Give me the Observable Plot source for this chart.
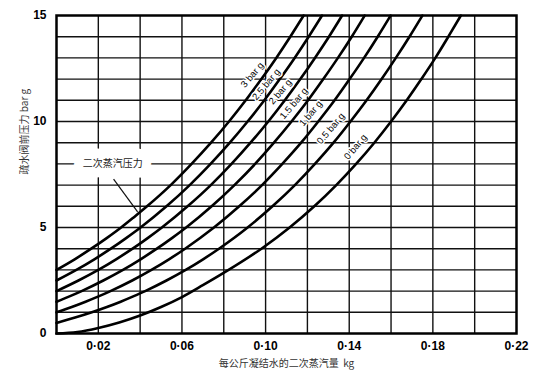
<!DOCTYPE html>
<html><head><meta charset="utf-8">
<script src="https://cdn.jsdelivr.net/npm/d3@7"></script>
<script src="https://cdn.jsdelivr.net/npm/@observablehq/plot@0.6"></script>
<style>body{margin:0;background:#fff}</style>
</head><body><div id="chart"></div>
<script>
// Axis ticks and grid
const xTickValues = [0.02, 0.06, 0.10, 0.14, 0.18, 0.22];
const yTickValues = [0, 5, 10, 15];
const xGridValues = [0.02, 0.04, 0.06, 0.08, 0.10, 0.12, 0.14, 0.16, 0.18, 0.20];
const yGridValues = [1, 2, 3, 4, 5, 6, 7, 8, 9, 10, 11, 12, 13, 14];

// Curves: [flash steam kg per kg condensate, upstream pressure bar g]
const curve0 = [[0,0],[0.01,0.07],[0.02,0.26],[0.03,0.52],[0.04,0.85],[0.05,1.25],[0.06,1.72],[0.07,2.28],[0.0823,3],[0.098,4],[0.1115,5],[0.1233,6],[0.1338,7],[0.1433,8],[0.1520,9],[0.1600,10],[0.1675,11],[0.1745,12],[0.1812,13],[0.1874,14],[0.1934,15]];
const curve05 = [[0,0.5],[0.0089,0.75],[0.0169,1],[0.0241,1.25],[0.0307,1.5],[0.0367,1.75],[0.0424,2],[0.0526,2.5],[0.0618,3],[0.0701,3.5],[0.0777,4],[0.0914,5],[0.1033,6],[0.1140,7],[0.1236,8],[0.1325,9],[0.1406,10],[0.1483,11],[0.1555,12],[0.1623,13],[0.1688,14],[0.1750,15]];
const curve1 = [[0,1],[0.0073,1.25],[0.0139,1.5],[0.0201,1.75],[0.0258,2],[0.0362,2.5],[0.0454,3],[0.0538,3.5],[0.0615,4],[0.0753,5],[0.0874,6],[0.0983,7],[0.1080,8],[0.1170,9],[0.1252,10],[0.1330,11],[0.1402,12],[0.1471,13],[0.1536,14],[0.1598,15]];
const curve15 = [[0,1.5],[0.0062,1.75],[0.0120,2],[0.0224,2.5],[0.0318,3],[0.0402,3.5],[0.0480,4],[0.0552,4.5],[0.0620,5],[0.0742,6],[0.0851,7],[0.0950,8],[0.1040,9],[0.1124,10],[0.1203,11],[0.1276,12],[0.1346,13],[0.1412,14],[0.1474,15]];
const curve2 = [[0,2],[0.0105,2.5],[0.0200,3],[0.0285,3.5],[0.0364,4],[0.0436,4.5],[0.0504,5],[0.0627,6],[0.0738,7],[0.0837,8],[0.0928,9],[0.1013,10],[0.1092,11],[0.1166,12],[0.1236,13],[0.1303,14],[0.1366,15]];
const curve25 = [[0,2.5],[0.0095,3],[0.0181,3.5],[0.0260,4],[0.0333,4.5],[0.0402,5],[0.0526,6],[0.0637,7],[0.0737,8],[0.0829,9],[0.0914,10],[0.0994,11],[0.1068,12],[0.1139,13],[0.1206,14],[0.1270,15]];
const curve3 = [[0,3],[0.0087,3.5],[0.0166,4],[0.0240,4.5],[0.0309,5],[0.0372,5.5],[0.0433,6],[0.0546,7],[0.0646,8],[0.0739,9],[0.0825,10],[0.0905,11],[0.0980,12],[0.1051,13],[0.1118,14],[0.1182,15]];

const curveNames = ["0 bar g", "0.5 bar g", "1 bar g", "1.5 bar g", "2 bar g", "2.5 bar g", "3 bar g"];
const labelX = [0.1430, 0.1312, 0.1216, 0.1135, 0.1070, 0.1003, 0.0936];
const labelY = [8.8, 9.67, 10.38, 10.85, 11.4, 11.75, 12.2];

const noteText = ["二次蒸汽压力"];
const noteX = [0.0269];
const noteY = [8.0];
const leaderX = [0.0273, 0.0388];
const leaderY = [7.28, 5.74];

const xTitle = "每公斤凝结水的二次蒸汽量  kg";
const yTitle = "疏水阀前压力 bar g";

const curves = [curve0, curve05, curve1, curve15, curve2, curve25, curve3];
const rows = curves.flatMap((c, i) => c.map(([x, y]) => ({x, y, name: curveNames[i]})));
const labels = curveNames.map((n, i) => ({n, x: labelX[i], y: labelY[i]}));
const notes = noteText.map((t, i) => ({t, x: noteX[i], y: noteY[i]}));
const leader = [{x1: leaderX[0], y1: leaderY[0], x2: leaderX[1], y2: leaderY[1]}];

const cjk = "'Noto Sans CJK SC', sans-serif";

const chart = Plot.plot({
  width: 545,
  height: 383,
  marginLeft: 56,
  marginRight: 29,
  marginTop: 15,
  marginBottom: 50,
  style: {fontFamily: "'Liberation Sans', Arial, sans-serif", background: "#fff", color: "#000"},
  x: {domain: [0, 0.22]},
  y: {domain: [0, 15]},
  marks: [
    Plot.ruleX(xGridValues, {stroke: "#111", strokeWidth: 1.4}),
    Plot.ruleY(yGridValues, {stroke: "#111", strokeWidth: 1.4}),
    Plot.text(notes, {x: "x", y: "y", text: "t", fontFamily: cjk, fontSize: 10, fill: "#222", stroke: "white", strokeWidth: 19}),
    Plot.line(rows, {x: "x", y: "y", z: "name", curve: "monotone-x", stroke: "#000", strokeWidth: 2.6}),
    Plot.link(leader, {x1: "x1", y1: "y1", x2: "x2", y2: "y2", stroke: "#111", strokeWidth: 1.2}),
    Plot.text(labels, {x: "x", y: "y", text: "n", rotate: -50, fontSize: 9.5, fill: "#000", stroke: "white", strokeWidth: 3}),
    Plot.frame({stroke: "#000", strokeWidth: 2.5}),
    Plot.axisX(xTickValues, {tickSize: 0, tickPadding: 8, fontSize: 12, fontWeight: "bold", tickFormat: d => d.toFixed(2).replace(".", "·"), label: null}),
    Plot.axisY(yTickValues, {tickSize: 0, tickPadding: 10, fontSize: 12, fontWeight: "bold", label: null}),
    Plot.text([xTitle], {frameAnchor: "bottom", dy: 33, fontFamily: cjk, fontSize: 10, fill: "#333"}),
    Plot.text([yTitle], {frameAnchor: "left", rotate: -90, dx: -32, fontFamily: cjk, fontSize: 10, fill: "#333"})
  ]
});
document.getElementById("chart").appendChild(chart);
</script>
</body></html>
